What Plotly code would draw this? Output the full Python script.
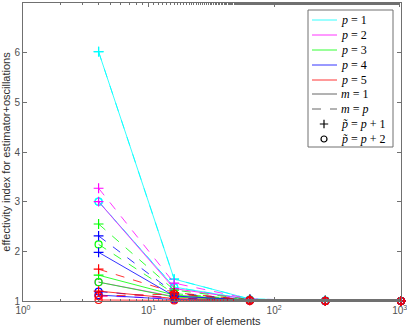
import plotly.graph_objects as go

n_elements = [4, 16, 64, 256, 1024]

# effectivity index, one list per (p, m, p~) combination
p1_m1_plus = [6.02, 1.44, 1.04, 1.01, 1.00]
p1_m1_circ = [3.00, 1.28, 1.03, 1.01, 1.00]

p2_m1_plus = [3.00, 1.25, 1.03, 1.01, 1.00]
p2_m1_circ = [1.38, 1.09, 1.02, 1.00, 1.00]
p2_mp_plus = [3.27, 1.36, 1.04, 1.01, 1.00]
p2_mp_circ = [1.10, 1.05, 1.01, 1.00, 1.00]

p3_m1_plus = [1.52, 1.12, 1.02, 1.00, 1.00]
p3_m1_circ = [1.38, 1.08, 1.01, 1.00, 1.00]
p3_mp_plus = [2.55, 1.22, 1.03, 1.01, 1.00]
p3_mp_circ = [2.14, 1.15, 1.02, 1.00, 1.00]

p4_m1_plus = [1.98, 1.10, 1.02, 1.00, 1.00]
p4_m1_circ = [1.12, 1.03, 1.01, 1.00, 1.00]
p4_mp_plus = [2.31, 1.16, 1.02, 1.00, 1.00]
p4_mp_circ = [1.19, 1.06, 1.01, 1.00, 1.00]

p5_m1_plus = [1.20, 1.05, 1.01, 1.00, 1.00]
p5_m1_circ = [1.02, 1.01, 1.00, 1.00, 1.00]
p5_mp_plus = [1.64, 1.17, 1.02, 1.00, 1.00]
p5_mp_circ = [1.10, 1.14, 1.02, 1.00, 1.00]

x_tick_vals = [1, 10, 100, 1000]
x_tick_text = ["10<sup>0</sup>", "10<sup>1</sup>", "10<sup>2</sup>", "10<sup>3</sup>"]
y_tick_vals = [1, 2, 3, 4, 5, 6, 7]

legend_labels = ["<i>p</i> = 1", "<i>p</i> = 2", "<i>p</i> = 3", "<i>p</i> = 4", "<i>p</i> = 5",
                 "<i>m</i> = 1", "<i>m</i> = <i>p</i>",
                 "<i>p\u0303</i> = <i>p</i> + 1", "<i>p\u0303</i> = <i>p</i> + 2"]

colors = ["#00ffff", "#ff00ff", "#00ff00", "#0000ff", "#ff0000"]

series = [
    (0, "solid", "cross-thin-open", p1_m1_plus),
    (0, "solid", "circle-open", p1_m1_circ),
    (0, "dash", "cross-thin-open", p1_m1_plus),
    (0, "dash", "circle-open", p1_m1_circ),
    (1, "solid", "cross-thin-open", p2_m1_plus),
    (1, "solid", "circle-open", p2_m1_circ),
    (1, "dash", "cross-thin-open", p2_mp_plus),
    (1, "dash", "circle-open", p2_mp_circ),
    (2, "solid", "cross-thin-open", p3_m1_plus),
    (2, "solid", "circle-open", p3_m1_circ),
    (2, "dash", "cross-thin-open", p3_mp_plus),
    (2, "dash", "circle-open", p3_mp_circ),
    (3, "solid", "cross-thin-open", p4_m1_plus),
    (3, "solid", "circle-open", p4_m1_circ),
    (3, "dash", "cross-thin-open", p4_mp_plus),
    (3, "dash", "circle-open", p4_mp_circ),
    (4, "solid", "cross-thin-open", p5_m1_plus),
    (4, "solid", "circle-open", p5_m1_circ),
    (4, "dash", "cross-thin-open", p5_mp_plus),
    (4, "dash", "circle-open", p5_mp_circ),
]

W, H = 407, 333
L, R, T, B = 23, 6, 3, 32
PW, PH = W - L - R, H - T - B


def px_x(x):
    return (x - L) / PW


def px_y(y):
    return (H - B - y) / PH


fig = go.Figure()

for ci, dash, sym, vals in series:
    fig.add_trace(go.Scatter(
        x=n_elements, y=vals, mode="lines+markers",
        line=dict(color=colors[ci], width=0.8, dash=dash),
        marker=dict(symbol=sym, size=7, color=colors[ci], line=dict(width=1.2, color=colors[ci])),
        showlegend=False, cliponaxis=False,
    ))

# hand-made legend box (MATLAB style, compact rows)
shapes = [dict(type="rect", xref="paper", yref="paper",
               x0=px_x(308), x1=px_x(393), y0=px_y(147), y1=px_y(10),
               line=dict(color="#707070", width=1), fillcolor="white", layer="below")]
annotations = []
row_y = [20, 35, 50, 65, 80, 94, 109, 124, 139]
for i, lab in enumerate(legend_labels):
    yy = px_y(row_y[i])
    if i < 7:
        col = colors[i] if i < 5 else "#404040"
        dash = "dash" if i == 6 else "solid"
        shapes.append(dict(type="line", xref="paper", yref="paper",
                           x0=px_x(312), x1=px_x(337), y0=yy, y1=yy,
                           line=dict(color=col, width=0.8, dash=dash), layer="above"))
    annotations.append(dict(xref="paper", yref="paper", x=px_x(339), y=yy,
                            xanchor="left", yanchor="middle", showarrow=False, text=lab,
                            font=dict(family="Liberation Serif, DejaVu Serif", size=12, color="black")))

fig.add_trace(go.Scatter(
    x=[px_x(324), px_x(324)], y=[px_y(row_y[7]), px_y(row_y[8])],
    xaxis="x2", yaxis="y2", mode="markers", showlegend=False, hoverinfo="skip",
    marker=dict(symbol=["cross-thin-open", "circle-open"], size=6, color="black",
                line=dict(width=1.2, color="black")),
))

axis_common = dict(
    showline=True, linecolor="#707070", linewidth=1, mirror="allticks",
    ticks="inside", ticklen=4, tickcolor="#707070",
    showgrid=False, zeroline=False, automargin=False,
    tickfont=dict(family="Liberation Sans, Arial", size=10, color="#505050"),
)

fig.update_layout(
    width=W, height=H,
    paper_bgcolor="white", plot_bgcolor="white",
    margin=dict(l=L, r=R, t=T, b=B),
    showlegend=False,
    shapes=shapes, annotations=annotations,
    xaxis=dict(
        type="log", range=[0, 3.0105],
        tickvals=x_tick_vals, ticktext=x_tick_text,
        ticklabeloverflow="allow",
        minor=dict(ticks="inside", ticklen=2, tickcolor="#707070", showgrid=False),
        title=dict(text="number of elements", standoff=2,
                   font=dict(family="Liberation Sans, Arial", size=11, color="#303030")),
        **axis_common,
    ),
    yaxis=dict(
        range=[1, 7], tickvals=y_tick_vals,
        title=dict(text="effectivity index for estimator+oscillations", standoff=4,
                   font=dict(family="Liberation Sans, Arial", size=11, color="#303030")),
        **axis_common,
    ),
    xaxis2=dict(overlaying="x", range=[0, 1], visible=False, fixedrange=True),
    yaxis2=dict(overlaying="y", range=[0, 1], visible=False, fixedrange=True),
)

fig.write_html("out.html", config={"displayModeBar": False},
               post_script="document.body.style.margin = '0';")
